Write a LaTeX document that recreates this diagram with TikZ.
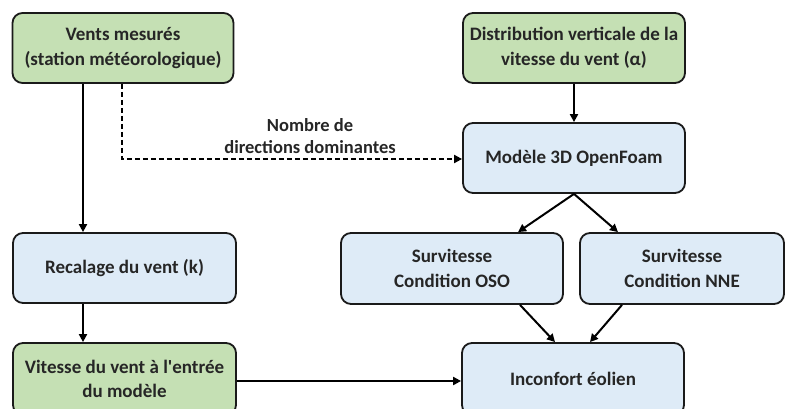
\documentclass[tikz,border=0pt]{standalone}
\usepackage{fontspec}
\setmainfont{Carlito}[Ligatures=TeXOff]
\usetikzlibrary{arrows.meta}
\definecolor{boxgreen}{HTML}{C5E0B4}
\definecolor{boxblue}{HTML}{DEEBF7}
\definecolor{edge}{HTML}{1A1A1A}
\begin{document}
\begin{tikzpicture}[x=1pt,y=-1pt,
  box/.style={draw=edge, line width=1.8pt, rounded corners=10pt, align=center,
    font=\bfseries\fontsize{19}{24.5}\selectfont, text=black!85, inner sep=0pt},
  gbox/.style={box, fill=boxgreen},
  bbox/.style={box, fill=boxblue},
  conn/.style={draw=black, line width=2pt, -{Triangle[length=8pt,width=8pt]}},
  lbl/.style={font=\bfseries\fontsize{18.5}{22.5}\selectfont, text=black!85, align=center}]
\clip (0,0) rectangle (789,409);
\fill[white] (0,0) rectangle (789,409);
\node[gbox, minimum width=221pt, minimum height=70pt] (A) at (123,48) {Vents mesurés\\(station météorologique)};
\node[gbox, minimum width=222pt, minimum height=70pt] (B) at (574,48) {Distribution verticale de la\\vitesse du vent (\char"03B1)};
\node[bbox, minimum width=222pt, minimum height=70pt] (C) at (574,158) {Modèle 3D OpenFoam};
\node[bbox, minimum width=222pt, minimum height=71pt] (D) at (452,268.5) {Survitesse\\Condition OSO};
\node[bbox, minimum width=204pt, minimum height=71pt] (E) at (682,268.5) {Survitesse\\Condition NNE};
\node[bbox, minimum width=222pt, minimum height=72pt] (F) at (573,379) {Inconfort éolien};
\node[bbox, minimum width=223pt, minimum height=70pt] (G) at (124.5,268) {Recalage du vent (k)};
\node[gbox, minimum width=223pt, minimum height=72pt] (H) at (124.5,379) {Vitesse du vent à l'entrée\\du modèle};
\coordinate (dturn) at (122,159);
\draw[conn] (A.south -| 83,0) -- (G.north -| 83,0);
\draw[conn] (G.south -| 83,0) -- (H.north -| 83,0);
\draw[conn, dash pattern=on 5pt off 3pt] (A.south -| dturn) -- (dturn) -- (dturn -| C.west);
\node[lbl] (L) at (310,136) {Nombre de\\directions dominantes};
\draw[conn] (B.south) -- (C.north);
\draw[conn] (C.south) -- (D.north -| 518,0);
\draw[conn] (C.south) -- (E.north -| 618,0);
\draw[conn] (D.south -| 520,0) -- (F.north -| 555,0);
\draw[conn] (E.south -| 622,0) -- (F.north -| 590,0);
\draw[conn] (H.east |- 0,381) -- (F.west |- 0,381);
\end{tikzpicture}
\end{document}
